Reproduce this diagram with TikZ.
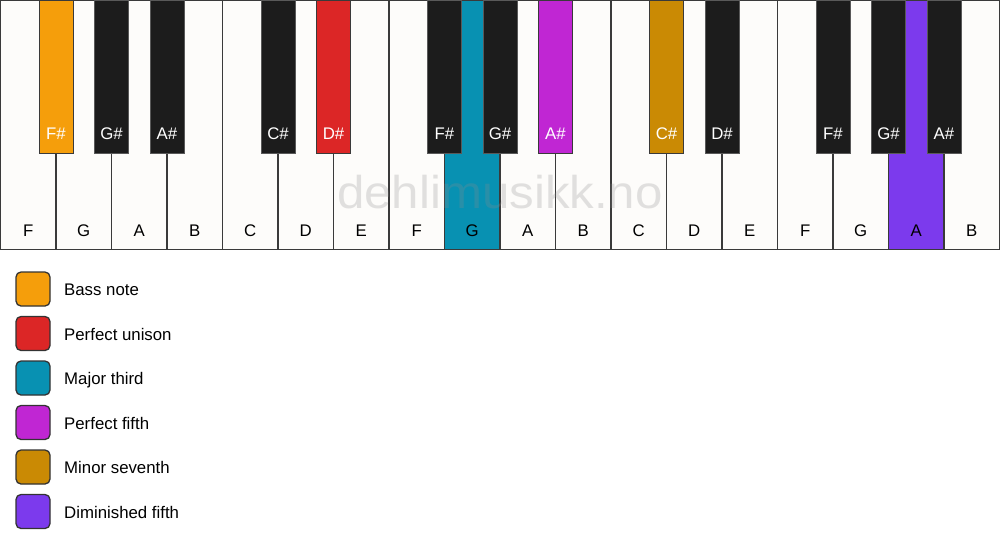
\documentclass[tikz,border=0pt]{standalone}
\usepackage{fontspec}
\setmainfont{Liberation Sans}
\usetikzlibrary{positioning}

\definecolor{keywhite}{HTML}{FDFCFA}
\definecolor{keyblack}{HTML}{1C1C1C}
\definecolor{keyline}{HTML}{3A3A3A}
\definecolor{bass}{HTML}{F59E0B}
\definecolor{unison}{HTML}{DC2626}
\definecolor{third}{HTML}{0891B2}
\definecolor{fifth}{HTML}{C026D3}
\definecolor{seventh}{HTML}{CA8A04}
\definecolor{dimfifth}{HTML}{7C3AED}

\tikzset{
  wkey/.style={draw=keyline, line width=1.6pt, fill=keywhite, inner sep=0pt,
    minimum width=55.5pt, minimum height=249pt},
  bkey/.style={draw=black!65, line width=1pt, fill=keyblack, inner sep=0pt,
    minimum width=34pt, minimum height=153pt},
  wname/.style={anchor=base, font=\fontsize{16.8}{18}\selectfont, text=black},
  bname/.style={anchor=base, font=\fontsize{16.8}{18}\selectfont, text=white},
  swatch/.style={draw=keyblack!90, line width=1.3pt, rounded corners=5pt,
    minimum size=34pt, inner sep=0pt, outer sep=0pt},
  entry/.style={font=\fontsize{16.8}{18}\selectfont, anchor=base west, inner sep=0pt}
}

\begin{document}
\begin{tikzpicture}[x=1pt, y=-1pt]
  \useasboundingbox (0,0) rectangle (1000,550);
  \fill[white] (0,0) rectangle (1000,550);

  % white keys
  \node[wkey] (wF1) at (28.25,125) {};
  \node[wkey] (wG1) at (83.75,125) {};
  \node[wkey] (wA1) at (139.25,125) {};
  \node[wkey] (wB1) at (194.75,125) {};
  \node[wkey] (wC1) at (250.25,125) {};
  \node[wkey] (wD1) at (305.75,125) {};
  \node[wkey] (wE1) at (361.25,125) {};
  \node[wkey] (wF2) at (416.75,125) {};
  \node[wkey, fill=third] (wG2) at (472.25,125) {};
  \node[wkey] (wA2) at (527.75,125) {};
  \node[wkey] (wB2) at (583.25,125) {};
  \node[wkey] (wC2) at (638.75,125) {};
  \node[wkey] (wD2) at (694.25,125) {};
  \node[wkey] (wE2) at (749.75,125) {};
  \node[wkey] (wF3) at (805.25,125) {};
  \node[wkey] (wG3) at (860.75,125) {};
  \node[wkey, fill=dimfifth] (wA3) at (916.25,125) {};
  \node[wkey] (wB3) at (971.75,125) {};

  \node[wname] at (28.25,236) {F};
  \node[wname] at (83.75,236) {G};
  \node[wname] at (139.25,236) {A};
  \node[wname] at (194.75,236) {B};
  \node[wname] at (250.25,236) {C};
  \node[wname] at (305.75,236) {D};
  \node[wname] at (361.25,236) {E};
  \node[wname] at (416.75,236) {F};
  \node[wname] at (472.25,236) {G};
  \node[wname] at (527.75,236) {A};
  \node[wname] at (583.25,236) {B};
  \node[wname] at (638.75,236) {C};
  \node[wname] at (694.25,236) {D};
  \node[wname] at (749.75,236) {E};
  \node[wname] at (805.25,236) {F};
  \node[wname] at (860.75,236) {G};
  \node[wname] at (916.25,236) {A};
  \node[wname] at (971.75,236) {B};

  % watermark
  \node[anchor=base, text=black!45, opacity=0.25, xscale=1.07, transform shape,
    font=\fontsize{46}{50}\selectfont] (mark) at (500,208) {dehlimusikk.no};

  % black keys
  \node[bkey, fill=bass, draw=keyline] (bF1) at (56,77) {};
  \node[bkey] (bG1) at (111.5,77) {};
  \node[bkey] (bA1) at (167,77) {};
  \node[bkey] (bC1) at (278,77) {};
  \node[bkey, fill=unison, draw=keyline] (bD1) at (333.5,77) {};
  \node[bkey] (bF2) at (444.5,77) {};
  \node[bkey] (bG2) at (500,77) {};
  \node[bkey, fill=fifth, draw=keyline] (bA2) at (555.5,77) {};
  \node[bkey, fill=seventh, draw=keyline] (bC2) at (666.5,77) {};
  \node[bkey] (bD2) at (722,77) {};
  \node[bkey] (bF3) at (833,77) {};
  \node[bkey] (bG3) at (888.5,77) {};
  \node[bkey] (bA3) at (944,77) {};

  \node[bname] at (56,139) {F\#};
  \node[bname] at (111.5,139) {G\#};
  \node[bname] at (167,139) {A\#};
  \node[bname] at (278,139) {C\#};
  \node[bname] at (333.5,139) {D\#};
  \node[bname] at (444.5,139) {F\#};
  \node[bname] at (500,139) {G\#};
  \node[bname] at (555.5,139) {A\#};
  \node[bname] at (666.5,139) {C\#};
  \node[bname] at (722,139) {D\#};
  \node[bname] at (833,139) {F\#};
  \node[bname] at (888.5,139) {G\#};
  \node[bname] at (944,139) {A\#};

  % legend
  \node[swatch, fill=bass] (sBass) at (33,289) {};
  \node[swatch, fill=unison, below=10.5pt of sBass] (sUnison) {};
  \node[swatch, fill=third, below=10.5pt of sUnison] (sThird) {};
  \node[swatch, fill=fifth, below=10.5pt of sThird] (sFifth) {};
  \node[swatch, fill=seventh, below=10.5pt of sFifth] (sSeventh) {};
  \node[swatch, fill=dimfifth, below=10.5pt of sSeventh] (sDim) {};

  \node[entry] (tBass) at ([xshift=14pt, yshift=-6.5pt]sBass.east) {Bass note};
  \node[entry] (tUnison) at ([xshift=14pt, yshift=-6.5pt]sUnison.east) {Perfect unison};
  \node[entry] (tThird) at ([xshift=14pt, yshift=-6.5pt]sThird.east) {Major third};
  \node[entry] (tFifth) at ([xshift=14pt, yshift=-6.5pt]sFifth.east) {Perfect fifth};
  \node[entry] (tSeventh) at ([xshift=14pt, yshift=-6.5pt]sSeventh.east) {Minor seventh};
  \node[entry] (tDim) at ([xshift=14pt, yshift=-6.5pt]sDim.east) {Diminished fifth};
\end{tikzpicture}
\end{document}
